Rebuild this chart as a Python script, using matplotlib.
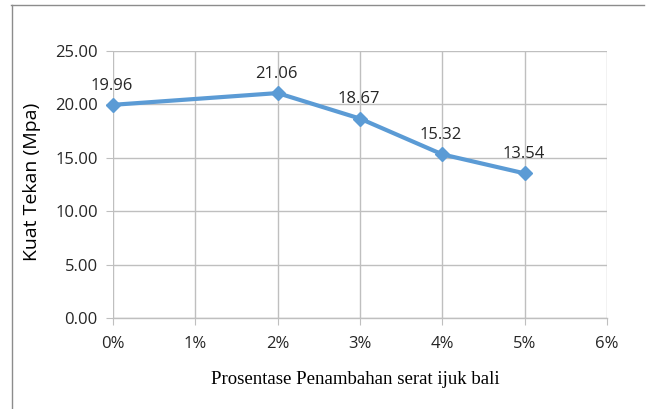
import matplotlib
matplotlib.use("Agg")
import matplotlib.pyplot as plt
from matplotlib.lines import Line2D

# Fibre addition (percent) and compressive strength (MPa)
serat_pct = [0, 2, 3, 4, 5]
kuat_tekan = [19.96, 21.06, 18.67, 15.32, 13.54]
x_ticks = [0, 1, 2, 3, 4, 5, 6]
x_labels = ["0%", "1%", "2%", "3%", "4%", "5%", "6%"]
y_ticks = [0, 5, 10, 15, 20, 25]

W, H = 646, 409
fig = plt.figure(figsize=(W / 100, H / 100), dpi=100)
fig.patch.set_facecolor("white")

left, right = 113 / W, 607 / W
bottom, top = 1 - 318 / H, 1 - 51 / H
ax = fig.add_axes([left, bottom, right - left, top - bottom])

grid_c = "#BFBFBF"
line_c = "#5B9BD5"
txt_c = "#262626"
sans = ["Open Sans", "DejaVu Sans"]

ax.plot(serat_pct, kuat_tekan, color=line_c, linewidth=3, marker="D",
        markersize=7, markeredgecolor=line_c, markerfacecolor=line_c,
        zorder=3, clip_on=False)

for xv, yv in zip(serat_pct, kuat_tekan):
    ax.annotate(f"{yv:.2f}", (xv, yv), xytext=(-1, 8), textcoords="offset points",
                ha="center", va="bottom", fontsize=12, color=txt_c, family=sans)

ax.set_xlim(0, 6)
ax.set_ylim(0, 25)
ax.set_xticks(x_ticks)
ax.set_xticklabels(x_labels)
ax.set_yticks(y_ticks)
ax.set_yticklabels([f"{v:.2f}" for v in y_ticks])

ax.grid(True, color=grid_c, linewidth=1)
ax.set_axisbelow(True)
for side in ["top", "right", "left"]:
    ax.spines[side].set_visible(False)
ax.spines["bottom"].set_color(grid_c)
ax.spines["bottom"].set_linewidth(1)

ax.tick_params(axis="x", direction="out", length=5, color=grid_c, pad=8,
               labelsize=12, labelcolor=txt_c)
ax.tick_params(axis="y", direction="out", length=5, color=grid_c, pad=6,
               labelsize=12, labelcolor=txt_c)
for lab in ax.get_xticklabels() + ax.get_yticklabels():
    lab.set_family(sans)

fig.text(32 / W, 1 - 182 / H, "Kuat Tekan (Mpa)", rotation=90, ha="center",
         va="center", fontsize=14, color="black", family=sans)
fig.text(355 / W, 1 - 380 / H, "Prosentase Penambahan serat ijuk bali",
         ha="center", va="center", fontsize=13.5, color="black",
         family=["Liberation Serif", "DejaVu Serif"])

# Outer chart frame (top and left edges)
frame_c = "#8C8C8C"
fig.add_artist(Line2D([11 / W, 644 / W], [1 - 4.5 / H, 1 - 4.5 / H],
                      color=frame_c, linewidth=1, transform=fig.transFigure))
fig.add_artist(Line2D([11.5 / W, 11.5 / W], [0, 1 - 4.5 / H],
                      color=frame_c, linewidth=1, transform=fig.transFigure))

fig.savefig("out.png", dpi=100)
